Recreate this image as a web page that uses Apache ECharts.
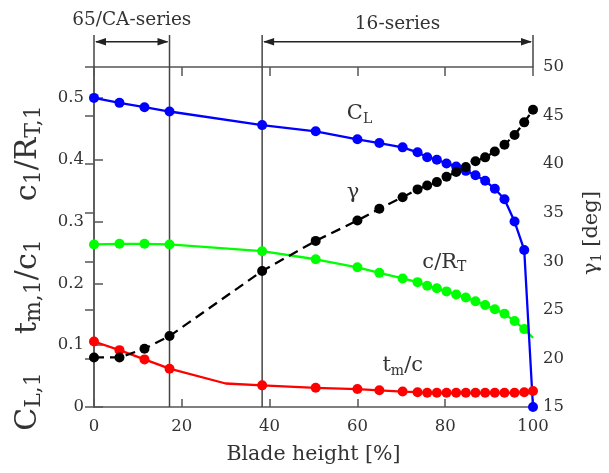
<!DOCTYPE html>
<html>
<head>
<meta charset="utf-8">
<script src="https://cdn.jsdelivr.net/npm/echarts@6/dist/echarts.min.js"></script>
<style>
  html, body { margin: 0; padding: 0; background: #fff; }
  #chart { width: 609px; height: 473px; }
</style>
</head>
<body>
<div id="chart"></div>
<script>
// Spanwise stations along the blade [% of blade height]
const bladeHeight = [0, 5.8, 11.5, 17.2, 38.3, 50.5, 60, 65, 70.3, 73.7, 75.9, 78.1, 80.3, 82.5, 84.7, 86.9, 89.1, 91.3, 93.5, 95.8, 98.0, 100];

// Design lift coefficient C_L (left axis)
const liftCoef = [0.500, 0.492, 0.485, 0.478, 0.456, 0.446, 0.433, 0.427, 0.420, 0.412, 0.404, 0.400, 0.394, 0.389, 0.382, 0.375, 0.366, 0.353, 0.336, 0.300, 0.254, 0.000];

// Chord to tip radius ratio c/R_T (left axis); tip value drawn without a marker
const chordRatio = [0.263, 0.264, 0.264, 0.263, 0.252, 0.239, 0.226, 0.217, 0.208, 0.202, 0.196, 0.192, 0.187, 0.182, 0.177, 0.171, 0.165, 0.158, 0.151, 0.139, 0.126, 0.112];

// Max thickness to chord ratio t_m/c (left axis)
const thicknessRatio = [0.106, 0.092, 0.077, 0.062, 0.035, 0.031, 0.029, 0.027, 0.025, 0.024, 0.023, 0.023, 0.023, 0.023, 0.023, 0.023, 0.023, 0.023, 0.023, 0.023, 0.024, 0.026];
// Intermediate thickness station (line only)
const thicknessExtra = [30, 0.038];

// Stagger angle gamma [deg] (right axis)
const staggerAngle = [20.1, 20.1, 21.0, 22.3, 29.0, 32.1, 34.2, 35.4, 36.6, 37.4, 37.8, 38.15, 38.7, 39.2, 39.7, 40.3, 40.7, 41.3, 42.0, 43.0, 44.3, 45.6];

// Airfoil family ranges shown above the plot
const familySpans = [
  { label: '65/CA-series', from: 0, to: 17.2, textY: 20 },
  { label: '16-series', from: 38.3, to: 100, textY: 24 }
];

const xTicks = { min: 0, max: 100, step: 20 };
const leftTicks = { min: 0, max: 0.55, step: 0.1 };
const rightTicks = { min: 15, max: 50, step: 5 };

const FONT = 'DejaVu Serif';
const AXIS = '#555';
const TEXT = '#333';

function pairs(ys, hideLastSymbol) {
  return bladeHeight.map((x, i) => {
    if (hideLastSymbol && i === bladeHeight.length - 1) return { value: [x, ys[i]], symbol: 'none' };
    return [x, ys[i]];
  });
}

const thicknessData = pairs(thicknessRatio, false);
thicknessData.splice(4, 0, { value: thicknessExtra, symbol: 'none' });

const chart = echarts.init(document.getElementById('chart'), null, { renderer: 'canvas' });

const axisLineStyle = { color: AXIS, width: 1.5 };
const MARK = 10;
const LW = 2.3;

chart.setOption({
  animation: false,
  backgroundColor: '#fff',
  grid: { left: 94, right: 76, top: 67, bottom: 66, containLabel: false },
  xAxis: [
    {
      type: 'value', position: 'bottom', min: xTicks.min, max: xTicks.max, interval: xTicks.step,
      axisLine: { show: true, lineStyle: axisLineStyle },
      axisTick: { show: true, inside: true, length: 8, lineStyle: axisLineStyle },
      axisLabel: { fontFamily: FONT, fontSize: 16.5, color: TEXT, margin: 11 },
      splitLine: { show: false },
      name: 'Blade height [%]', nameLocation: 'middle', nameGap: 37,
      nameTextStyle: { fontFamily: FONT, fontSize: 20.5, color: TEXT }
    },
    {
      type: 'value', position: 'top', min: xTicks.min, max: xTicks.max, interval: xTicks.step,
      axisLine: { show: true, lineStyle: axisLineStyle },
      axisTick: { show: true, inside: true, length: 9, lineStyle: axisLineStyle },
      axisLabel: { show: false },
      splitLine: { show: false }
    }
  ],
  yAxis: [
    {
      type: 'value', position: 'left', min: leftTicks.min, max: leftTicks.max, interval: leftTicks.step,
      axisLine: { show: true, lineStyle: axisLineStyle },
      axisTick: { show: true, inside: true, length: 9, lineStyle: axisLineStyle },
      axisLabel: {
        fontFamily: FONT, fontSize: 16.5, color: TEXT, margin: 10, showMaxLabel: false,
        formatter: v => (Math.abs(v) < 1e-9 ? '0' : (Math.abs(v - 0.55) < 1e-6 ? '' : v.toFixed(1)))
      },
      splitLine: { show: false }
    },
    {
      type: 'value', position: 'right', min: rightTicks.min, max: rightTicks.max, interval: rightTicks.step,
      axisLine: { show: true, lineStyle: axisLineStyle },
      axisTick: { show: true, inside: true, length: 9, lineStyle: axisLineStyle },
      axisLabel: { fontFamily: FONT, fontSize: 16.5, color: TEXT, margin: 10 },
      splitLine: { show: false }
    }
  ],
  series: [
    {
      name: 'c/R_T', type: 'line', xAxisIndex: 0, yAxisIndex: 0, z: 2,
      data: pairs(chordRatio, true),
      symbol: 'circle', symbolSize: MARK,
      lineStyle: { color: '#00ff00', width: LW }, itemStyle: { color: '#00ff00' }
    },
    {
      name: 'C_L', type: 'line', xAxisIndex: 0, yAxisIndex: 0, z: 3,
      data: pairs(liftCoef, false),
      symbol: 'circle', symbolSize: MARK,
      lineStyle: { color: '#0000ff', width: LW }, itemStyle: { color: '#0000ff' }
    },
    {
      name: 't_m/c', type: 'line', xAxisIndex: 0, yAxisIndex: 0, z: 4,
      data: thicknessData,
      symbol: 'circle', symbolSize: MARK,
      lineStyle: { color: '#ff0000', width: LW }, itemStyle: { color: '#ff0000' }
    },
    {
      name: 'gamma', type: 'line', xAxisIndex: 0, yAxisIndex: 1, z: 5,
      data: pairs(staggerAngle, false),
      symbol: 'circle', symbolSize: MARK,
      lineStyle: { color: '#000', width: LW, type: [10, 6] }, itemStyle: { color: '#000' }
    }
  ]
});

// Rich text styles with subscripts
function richStyles(big, sub, drop) {
  return {
    b: { fontFamily: FONT, fontSize: big, lineHeight: big + 2, verticalAlign: 'top', fill: TEXT },
    s: { fontFamily: FONT, fontSize: sub, lineHeight: sub, verticalAlign: 'bottom', padding: [drop, 0, 0, 0], fill: TEXT }
  };
}

const px = v => chart.convertToPixel({ xAxisIndex: 0 }, v);
const pyL = v => chart.convertToPixel({ yAxisIndex: 0 }, v);

const graphics = [];
const yTop = pyL(leftTicks.max);
const yBottom = pyL(leftTicks.min);
const bracketTop = 35;
const arrowY = 41.7;
const lineCol = '#444';

familySpans.forEach(span => {
  const x0 = px(span.from), x1 = px(span.to);
  [span.from, span.to].forEach(v => {
    const x = px(v);
    const isEdge = (v === xTicks.min || v === xTicks.max);
    graphics.push({
      type: 'line', silent: true, z: 1,
      shape: { x1: x, y1: bracketTop, x2: x, y2: isEdge ? yTop : yBottom },
      style: { stroke: lineCol, lineWidth: 1.5 }
    });
  });
  graphics.push({
    type: 'line', silent: true,
    shape: { x1: x0 + 2, y1: arrowY, x2: x1 - 2, y2: arrowY },
    style: { stroke: '#222', lineWidth: 1.5 }
  });
  const ah = 11, aw = 3.8;
  graphics.push({
    type: 'polygon', silent: true,
    shape: { points: [[x0 + 1, arrowY], [x0 + 1 + ah, arrowY - aw], [x0 + 1 + ah, arrowY + aw]] },
    style: { fill: '#222' }
  });
  graphics.push({
    type: 'polygon', silent: true,
    shape: { points: [[x1 - 1, arrowY], [x1 - 1 - ah, arrowY - aw], [x1 - 1 - ah, arrowY + aw]] },
    style: { fill: '#222' }
  });
  graphics.push({
    type: 'text', silent: true,
    x: (x0 + x1) / 2, y: span.textY,
    style: { text: span.label, fontFamily: FONT, fontSize: 18.5, fill: TEXT, align: 'center', verticalAlign: 'middle' }
  });
});

// Curve annotations: anchor is baseline-left of the main glyphs, in data units
const annotations = [
  { text: '{b|C}{s|L}', at: [57.6, 0.462] },
  { text: '{b|γ}', at: [57.6, 0.334] },
  { text: '{b|c/R}{s|T}', at: [74.8, 0.2216] },
  { text: '{b|t}{s|m}{b|/c}', at: [65.7, 0.0546] }
];
annotations.forEach(a => {
  graphics.push({
    type: 'text', silent: true,
    x: px(a.at[0]), y: pyL(a.at[1]) - 18.2,
    style: { text: a.text, rich: richStyles(21, 14, 12), align: 'left', verticalAlign: 'top' }
  });
});

// Left axis title
graphics.push({
  type: 'text', silent: true,
  x: 29, y: 268, rotation: Math.PI / 2,
  style: {
    text: '{b|C}{s|L,1}{b|    t}{s|m,1}{b|/c}{s|1}{b|    c}{s|1}{b|/R}{s|T,1}',
    rich: richStyles(30, 22, 17), align: 'center', verticalAlign: 'middle'
  }
});

// Right axis title
graphics.push({
  type: 'text', silent: true,
  x: 593, y: 233, rotation: Math.PI / 2,
  style: {
    text: '{b|γ}{s|1}{b| [deg]}',
    rich: richStyles(21, 14, 12), align: 'center', verticalAlign: 'middle'
  }
});

chart.setOption({ graphic: graphics });
</script>
</body>
</html>
